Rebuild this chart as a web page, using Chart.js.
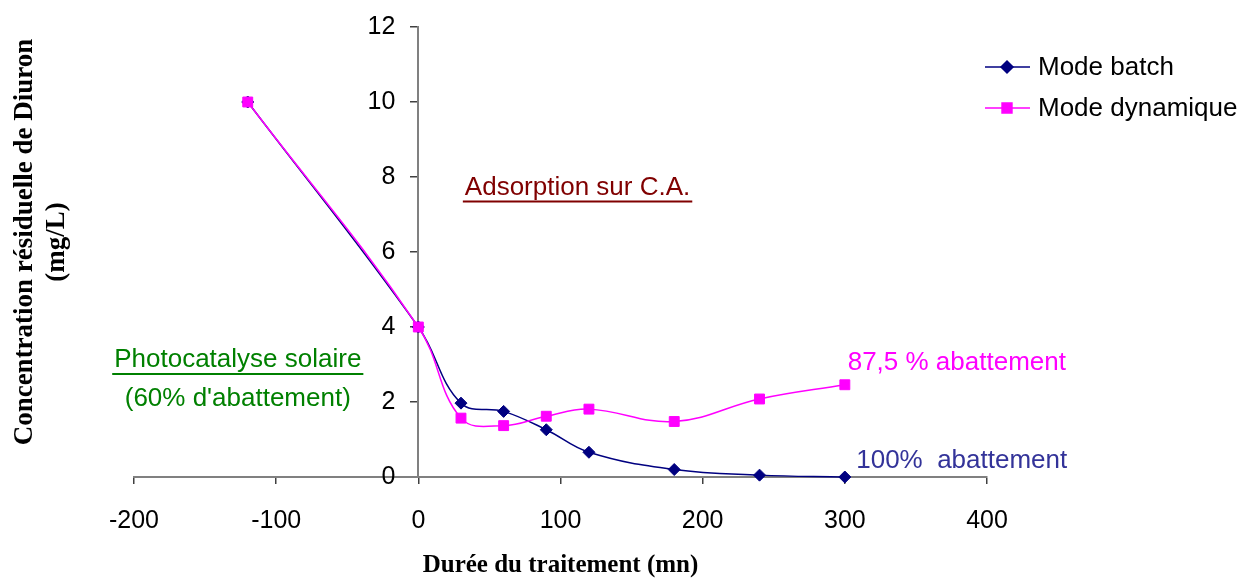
<!DOCTYPE html>
<html>
<head>
<meta charset="utf-8">
<script src="https://cdn.jsdelivr.net/npm/chart.js@4.4.0/dist/chart.umd.min.js"></script>
<style>
  html, body { margin: 0; padding: 0; background: #fff; }
  #wrap { width: 1239px; height: 579px; }
</style>
</head>
<body>
<div id="wrap"><canvas id="chart" width="1239" height="579"></canvas></div>
<script>
// treatment time (mn) and residual Diuron concentration (mg/L)
const minutes = [-120, 0, 30, 60, 90, 120, 180, 240, 300];
const batchConc = [10, 4, 1.97, 1.75, 1.26, 0.66, 0.2, 0.05, 0];
const dynamicConc = [10, 4, 1.57, 1.37, 1.62, 1.81, 1.48, 2.08, 2.46];
const seriesNames = ["Mode batch", "Mode dynamique"];
const xRange = [-200, 400];
const yRange = [0, 12];

const SANS = "'Liberation Sans', Arial, sans-serif";
const SERIF = "'Liberation Serif', 'Times New Roman', serif";

// free text notes, anchored in data units
const notes = [
  { text: "Adsorption sur C.A.", x: 112, y: 7.72, align: "center", color: "#800000", underline: true },
  { text: "Photocatalyse solaire", x: -127, y: 3.12, align: "center", color: "#008000", underline: true },
  { text: "(60% d'abattement)", x: -127, y: 2.09, align: "center", color: "#008000" },
  { text: "87,5 % abattement", x: 302, y: 3.05, align: "left", color: "#FF00FF" },
  { text: "100%  abattement", x: 308, y: 0.42, align: "left", color: "#333399" }
];

function toPoints(ys) {
  return minutes.map((m, i) => ({ x: m, y: ys[i] }));
}

const decorations = {
  id: "decorations",
  afterDraw(chart) {
    const ctx = chart.ctx;
    const xs = chart.scales.x;
    const ys = chart.scales.y;
    ctx.save();

    // y tick labels, left of the axis crossing at x = 0
    const axisX = xs.getPixelForValue(0);
    ctx.font = "25px " + SANS;
    ctx.fillStyle = "#000";
    ctx.textAlign = "right";
    ctx.textBaseline = "middle";
    ys.ticks.forEach(t => {
      ctx.fillText(String(t.value), axisX - 23, ys.getPixelForValue(t.value));
    });

    // annotations
    ctx.font = "26px " + SANS;
    notes.forEach(n => {
      const px = xs.getPixelForValue(n.x);
      const py = ys.getPixelForValue(n.y);
      ctx.fillStyle = n.color;
      ctx.textAlign = n.align;
      ctx.fillText(n.text, px, py);
      if (n.underline) {
        const w = ctx.measureText(n.text).width;
        const left = n.align === "center" ? px - w / 2 : px;
        ctx.fillRect(left - 2, py + 13, w + 4, 2);
      }
    });

    // legend
    chart.data.datasets.forEach((ds, i) => {
      const y = 67 + i * 41;
      ctx.strokeStyle = ds.borderColor;
      ctx.lineWidth = 1.5;
      ctx.beginPath();
      ctx.moveTo(985, y);
      ctx.lineTo(1030, y);
      ctx.stroke();
      ctx.fillStyle = ds.backgroundColor;
      Chart.helpers.drawPoint(ctx, {
        pointStyle: ds.pointStyle, radius: ds.pointRadius, rotation: 0, borderWidth: 1
      }, 1007, y);
      ctx.fillStyle = "#000";
      ctx.textAlign = "left";
      ctx.font = "26px " + SANS;
      ctx.fillText(ds.label, 1038, y + 1);
    });

    // axis titles
    ctx.fillStyle = "#000";
    ctx.textAlign = "center";
    ctx.font = "bold 25px " + SERIF;
    ctx.fillText("Durée du traitement (mn)", (chart.chartArea.left + chart.chartArea.right) / 2, 566);

    ctx.translate(0, 242);
    ctx.rotate(-Math.PI / 2);
    ctx.font = "bold 27px " + SERIF;
    ctx.fillText("Concentration résiduelle de Diuron", 0, 25);
    ctx.fillText("(mg/L)", 0, 57);
    ctx.restore();
  }
};

new Chart(document.getElementById("chart"), {
  type: "line",
  data: {
    datasets: [
      {
        label: seriesNames[0],
        data: toPoints(batchConc),
        borderColor: "#000080",
        backgroundColor: "#000080",
        borderWidth: 1.5,
        pointStyle: "rectRot",
        pointRadius: 6,
        pointBorderWidth: 1,
        tension: 0.4,
        order: 1,
        clip: false
      },
      {
        label: seriesNames[1],
        data: toPoints(dynamicConc),
        borderColor: "#FF00FF",
        backgroundColor: "#FF00FF",
        borderWidth: 1.5,
        pointStyle: "rect",
        pointRadius: 7,
        pointBorderWidth: 1,
        tension: 0.4,
        order: 0,
        clip: false
      }
    ]
  },
  options: {
    responsive: false,
    animation: false,
    layout: { padding: { left: 134, right: 252, top: 27, bottom: 0 } },
    plugins: {
      legend: { display: false },
      tooltip: { enabled: false }
    },
    scales: {
      x: {
        type: "linear",
        position: "bottom",
        min: xRange[0],
        max: xRange[1],
        ticks: { stepSize: 100, color: "#000", padding: 22, font: { family: SANS, size: 25 } },
        grid: { drawOnChartArea: false, color: "#404040", tickLength: 7, lineWidth: 1.5 },
        border: { color: "#808080", width: 2 },
        afterFit(scale) { scale.height = 102; }
      },
      y: {
        type: "linear",
        position: { x: 0 },
        min: yRange[0],
        max: yRange[1],
        ticks: { stepSize: 2, display: false },
        grid: { drawOnChartArea: false, drawTicks: true, color: "#404040", tickLength: 7, lineWidth: 1.5 },
        border: { color: "#808080", width: 2 }
      }
    }
  },
  plugins: [decorations]
});
</script>
</body>
</html>
